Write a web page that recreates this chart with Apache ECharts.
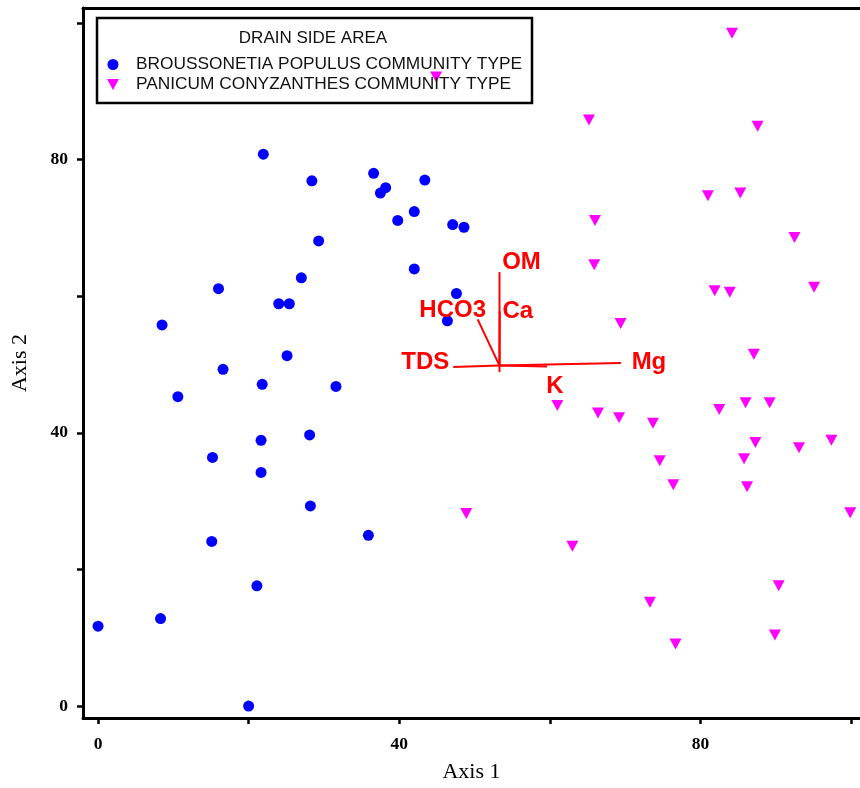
<!DOCTYPE html>
<html><head><meta charset="utf-8">
<script src="https://cdn.jsdelivr.net/npm/echarts@6/dist/echarts.min.js"></script>
<style>html,body{margin:0;padding:0;background:#fff}#c{width:860px;height:788px}</style>
</head><body><div id="c"></div>
<script>
// ---- data ----
const seriesNames = ['BROUSSONETIA POPULUS COMMUNITY TYPE', 'PANICUM CONYZANTHES COMMUNITY TYPE'];
const broussonetiaX = [21.95, 28.4, 36.6, 38.2, 37.5, 43.4, 42.0, 39.8, 47.1, 48.6, 29.3, 42.0, 27.0, 16.0, 47.6, 24.0, 25.4, 46.4, 8.5, 25.1, 16.6, 21.8, 31.6, 10.6, 21.65, 28.1, 15.2, 21.65, 28.2, 35.9, 15.1, 21.1, 8.3, 0.0, 20.0];
const broussonetiaY = [80.8, 76.9, 78.0, 75.9, 75.1, 77.0, 72.4, 71.1, 70.5, 70.1, 68.1, 64.0, 62.7, 61.1, 60.4, 58.9, 58.9, 56.4, 55.8, 51.3, 49.3, 47.1, 46.8, 45.3, 38.9, 39.7, 36.4, 34.2, 29.3, 25.0, 24.1, 17.6, 12.8, 11.7, 0.0];
const panicumX = [44.9, 84.2, 65.2, 87.6, 81.0, 85.3, 66.0, 92.5, 65.9, 81.9, 83.9, 95.1, 69.4, 87.1, 61.0, 66.4, 69.2, 73.7, 82.5, 86.0, 89.2, 87.3, 93.1, 97.4, 74.6, 85.8, 76.4, 86.2, 99.9, 48.9, 63.0, 90.4, 73.3, 76.7, 89.9];
const panicumY = [92.1, 98.5, 85.8, 84.9, 74.7, 75.1, 71.1, 68.6, 64.6, 60.8, 60.6, 61.3, 56.0, 51.5, 44.0, 42.9, 42.2, 41.4, 43.4, 44.4, 44.4, 38.6, 37.8, 38.9, 35.9, 36.2, 32.4, 32.1, 28.3, 28.2, 23.4, 17.6, 15.2, 9.1, 10.4];
const vectorOrigin = [53.32, 49.85];
const vectorNames = ['OM', 'Ca', 'HCO3', 'TDS', 'Mg', 'K', ''];
const vectorX = [53.32, 53.35, 50.42, 47.18, 69.45, 59.63, 53.32];
const vectorY = [63.54, 57.8, 56.62, 49.63, 50.22, 49.71, 48.9];
const xTickValues = [0, 20, 40, 60, 80, 100];
const xLabelValues = [0, 40, 80];
const yTickValues = [0, 20, 40, 60, 80, 100];
const yLabelValues = [0, 40, 80];
const legendTitle = 'DRAIN SIDE AREA';
const xName = 'Axis 1';
const yName = 'Axis 2';

// ---- build ----
const labelOffsets = { OM: [22, -10], Ca: [18, 0], HCO3: [-25, -9], TDS: [-28, -5], Mg: [28, -1], K: [8, 20], '': [0, 0] };
const zip = (xs, ys) => xs.map((x, i) => [x, ys[i]]);
const vectorSeries = vectorNames.map((n, i) => ({
  type: 'line', silent: true, symbol: 'none', z: 5,
  data: [vectorOrigin, [vectorX[i], vectorY[i]]],
  lineStyle: { color: '#ff0000', width: 2, opacity: 1 }, animation: false
}));
const vectorLabels = {
  type: 'scatter', silent: true, symbolSize: 0, z: 6, animation: false,
  itemStyle: { opacity: 1 },
  data: vectorNames.map((n, i) => ({
    value: [vectorX[i], vectorY[i]], name: n,
    label: { show: n !== '', position: 'inside', offset: labelOffsets[n], formatter: n, opacity: 1,
      color: '#ff0000', fontFamily: 'Liberation Sans, Arial, sans-serif', fontWeight: 'bold', fontSize: 24,
      align: 'center', verticalAlign: 'middle' }
  }))
};
const axisFont = { fontFamily: 'Liberation Serif, Times New Roman, serif', fontWeight: 'bold', fontSize: 17.5, color: '#000' };
const downTriangle = 'path://M0,0L12,0L6,11Z';

const option = {
  backgroundColor: '#fff',
  animation: false,
  grid: { left: 83, top: 8, right: 0, bottom: 70 },
  xAxis: [{
    type: 'value', min: -2, max: 101.2, position: 'bottom',
    name: xName, nameLocation: 'middle', nameGap: 43,
    nameTextStyle: { fontFamily: 'Liberation Serif, Times New Roman, serif', fontSize: 22, color: '#000' },
    axisLine: { onZero: false, lineStyle: { color: '#000', width: 3 } },
    axisTick: { show: true, inside: false, length: 6, customValues: xTickValues, lineStyle: { color: '#000', width: 2.5 } },
    axisLabel: Object.assign({ margin: 17, customValues: xLabelValues }, axisFont),
    splitLine: { show: false }
  }, {
    type: 'value', min: -2, max: 101.2, position: 'top',
    axisLine: { show: true, onZero: false, lineStyle: { color: '#000', width: 3 } },
    axisTick: { show: false }, axisLabel: { show: false }, splitLine: { show: false }
  }],
  yAxis: {
    type: 'value', min: -1.75, max: 102.2,
    name: yName, nameLocation: 'middle', nameGap: 52, nameRotate: 90,
    nameTextStyle: { fontFamily: 'Liberation Serif, Times New Roman, serif', fontSize: 22, color: '#000' },
    axisLine: { show: true, onZero: false, lineStyle: { color: '#000', width: 3 } },
    axisTick: { show: true, inside: false, length: 6, customValues: yTickValues, lineStyle: { color: '#000', width: 2.5 } },
    axisLabel: Object.assign({ margin: 15, customValues: yLabelValues }, axisFont),
    splitLine: { show: false }
  },
  legend: {
    orient: 'vertical', left: 102, top: 51, itemGap: 3,
    itemWidth: 12, itemHeight: 11,
    data: [{ name: seriesNames[0], icon: 'circle' }, { name: seriesNames[1], icon: downTriangle }],
    itemStyle: { opacity: 1 },
    textStyle: { fontFamily: 'Liberation Sans, Arial, sans-serif', fontSize: 17.3, color: '#111', lineHeight: 17, padding: [0, 0, 0, 12] }
  },
  graphic: [
    { type: 'rect', z: 0, shape: { x: 97, y: 18, width: 435, height: 85 }, style: { fill: '#fff', stroke: '#000', lineWidth: 2.5 } },
    { type: 'text', z: 1, x: 313, y: 38, style: { text: legendTitle, fill: '#111', font: '17px "Liberation Sans", Arial, sans-serif', textAlign: 'center', textVerticalAlign: 'middle' } }
  ],
  series: [
    { name: seriesNames[0], type: 'scatter', symbol: 'circle', symbolSize: 11, z: 3,
      itemStyle: { color: '#0000ff', opacity: 1 }, data: zip(broussonetiaX, broussonetiaY) },
    { name: seriesNames[1], type: 'scatter', symbol: 'triangle', symbolRotate: 180, symbolSize: [12, 11], z: 3,
      itemStyle: { color: '#ff00ff', opacity: 1 }, data: zip(panicumX, panicumY) }
  ].concat(vectorSeries, [vectorLabels])
};
const chart = echarts.init(document.getElementById('c'), null, { renderer: 'canvas' });
chart.setOption(option);
</script></body></html>
